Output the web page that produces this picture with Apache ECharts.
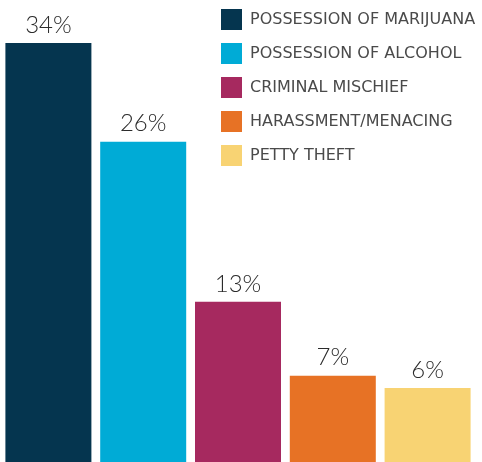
<!DOCTYPE html>
<html>
<head>
<meta charset="utf-8">
<script src="https://cdn.jsdelivr.net/npm/echarts@6/dist/echarts.min.js"></script>
<style>
  html, body { margin: 0; padding: 0; background: #fff; }
  #chart { width: 482px; height: 462px; }
</style>
</head>
<body>
<div id="chart"></div>
<script>
// Offence categories and their share of cases (percent)
const categories = [
  'POSSESSION OF MARIJUANA',
  'POSSESSION OF ALCOHOL',
  'CRIMINAL MISCHIEF',
  'HARASSMENT/MENACING',
  'PETTY THEFT'
];
const shares = [34, 26, 13, 7, 6];
const colors = ['#05354f', '#00abd6', '#a6295f', '#e77225', '#f8d373'];

// One series per category so each gets its own legend entry;
// stacking keeps every bar centred in its own slot.
const series = categories.map((name, i) => ({
  name: name,
  type: 'bar',
  stack: 'all',
  barWidth: 86,
  itemStyle: { color: colors[i] },
  label: {
    show: true,
    position: 'top',
    distance: 6,
    formatter: p => p.value + '%',
    color: '#2b2b2b',
    fontSize: 24,
    fontFamily: 'Lato, "Open Sans", sans-serif',
    fontWeight: 300
  },
  data: shares.map((v, j) => (j === i ? v : null))
}));

const chart = echarts.init(document.getElementById('chart'));
chart.setOption({
  animation: false,
  backgroundColor: '#fff',
  color: colors,
  legend: {
    orient: 'vertical',
    left: 221,
    top: 9,
    padding: 0,
    itemWidth: 21,
    itemHeight: 21,
    itemGap: 13,
    icon: 'rect',
    textStyle: {
      color: '#4a4a4a',
      fontSize: 16,
      fontFamily: '"DejaVu Sans", sans-serif',
      padding: [0, 0, 0, 3]
    },
    selectedMode: false
  },
  grid: { left: 1, right: 7, top: 0, bottom: 0, containLabel: false },
  xAxis: {
    type: 'category',
    data: categories,
    axisLine: { show: false },
    axisTick: { show: false },
    axisLabel: { show: false }
  },
  yAxis: {
    type: 'value',
    min: 0,
    max: 37.5,
    show: false,
    splitLine: { show: false }
  },
  series: series
});
</script>
</body>
</html>
